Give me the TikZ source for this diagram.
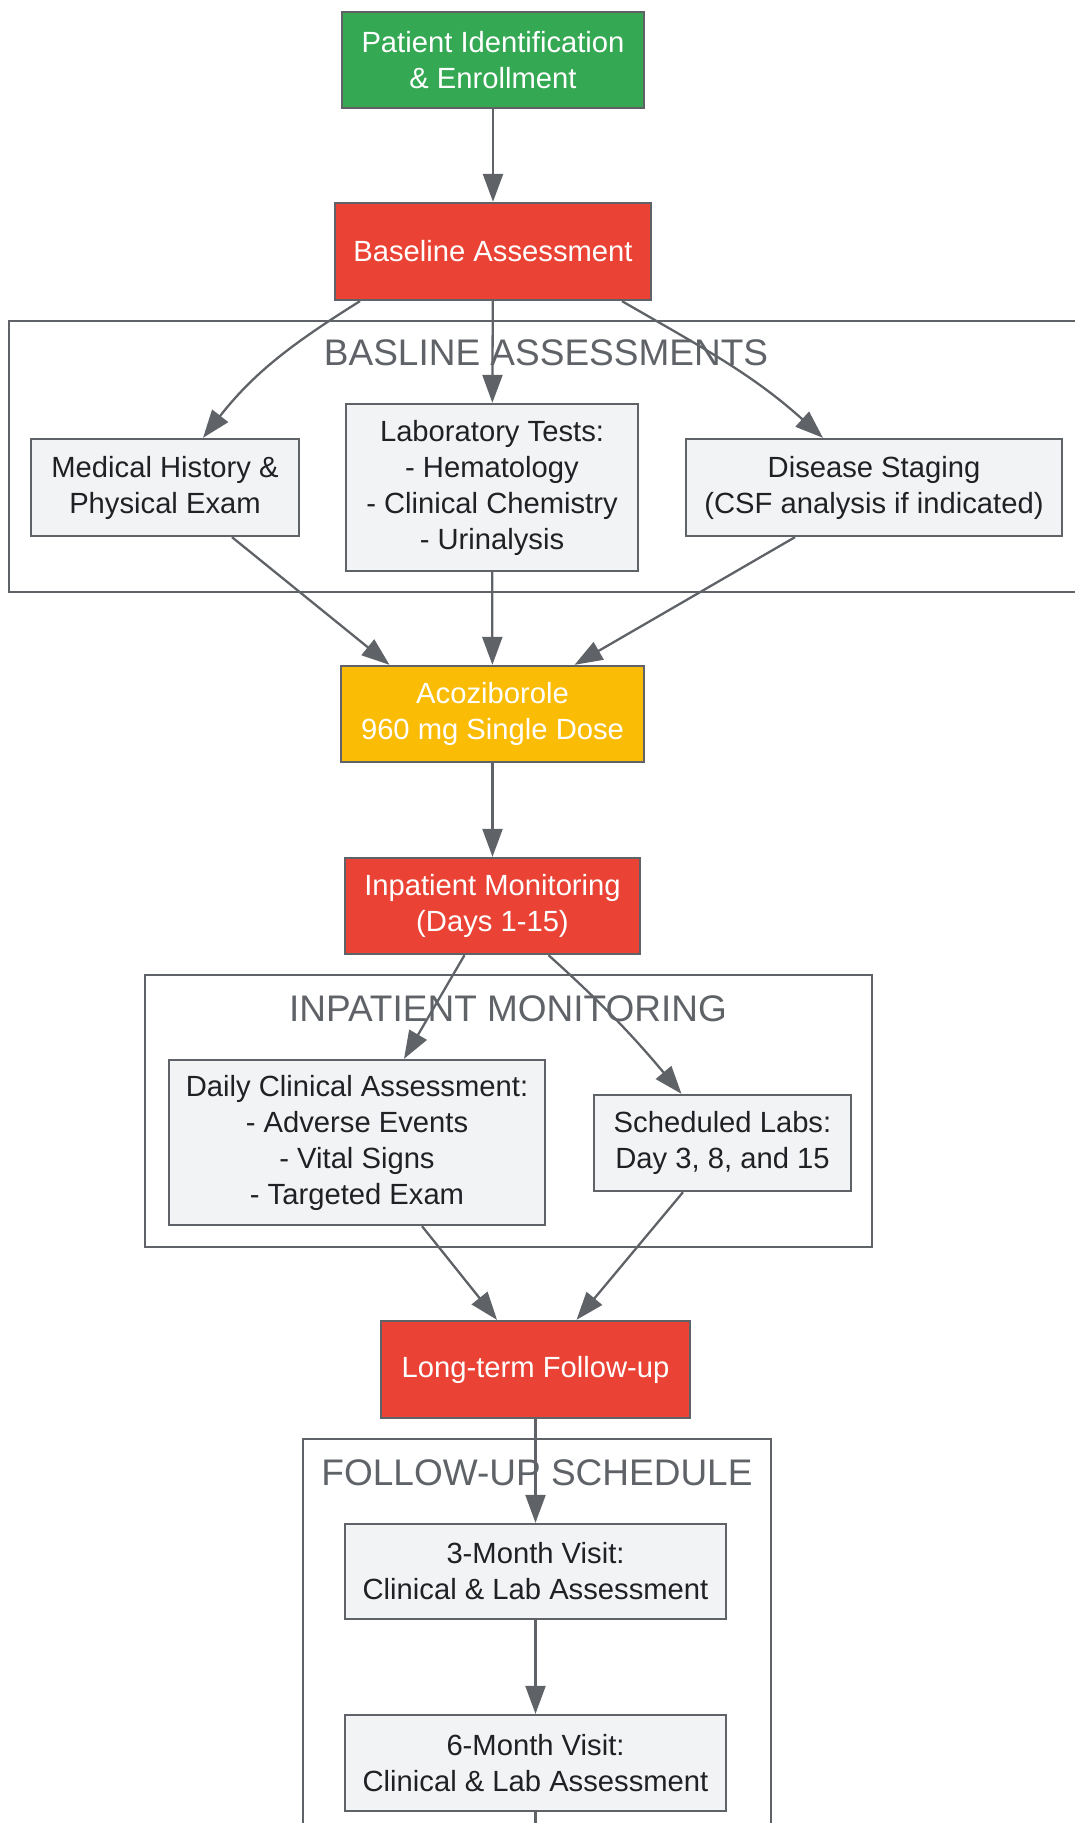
\documentclass[tikz,border=0pt]{standalone}
\usepackage{fontspec}
\setmainfont{Liberation Sans}
\usetikzlibrary{arrows.meta}
\definecolor{startgreen}{HTML}{34A853}
\definecolor{phasered}{HTML}{EA4335}
\definecolor{doseyellow}{HTML}{FBBC05}
\definecolor{boxgray}{HTML}{F1F3F4}
\definecolor{edgegray}{HTML}{5F6368}
\definecolor{textdark}{HTML}{202124}

\begin{document}
\begin{tikzpicture}[x=1pt,y=1pt,
    box/.style={draw=edgegray,line width=2.3pt,align=center,inner sep=0pt,font=\fontsize{29.2}{36}\selectfont},
    keybox/.style={box,text=white},
    subbox/.style={box,fill=boxgray,text=textdark},
    group/.style={draw=edgegray,line width=2.3pt},
    grouptitle/.style={text=edgegray,font=\fontsize{37}{44}\selectfont},
    flow/.style={edgegray,line width=2.3pt,-{Triangle[length=28pt,width=20pt]}}]
    \useasboundingbox (0,0) rectangle (1075,-1823);

    % the three groups
    \draw[group] (9,-321) rectangle (1083,-592);
    \draw[group] (145,-975) rectangle (872,-1247);
    \draw[group] (303,-1439) rectangle (771,-1900);
    \node[grouptitle] (basetitle) at (546,-353) {BASLINE ASSESSMENTS};
    \node[grouptitle] (inptitle) at (508,-1009) {INPATIENT MONITORING};
    \node[grouptitle] (followtitle) at (537,-1473) {FOLLOW-UP SCHEDULE};

    \node[keybox,fill=startgreen,minimum width=302pt,minimum height=96pt] (pat) at (493,-60) {Patient Identification\\\& Enrollment};
    \node[keybox,fill=phasered,minimum width=316pt,minimum height=97pt] (base) at (493,-251.5) {Baseline Assessment};

    \node[subbox,minimum width=268pt,minimum height=97pt] (med) at (165,-487.5) {Medical History \&\\Physical Exam};
    \node[subbox,minimum width=292pt,minimum height=167pt] (lab) at (492,-487.5) {Laboratory Tests:\\- Hematology\\- Clinical Chemistry\\- Urinalysis};
    \node[subbox,minimum width=376pt,minimum height=97pt] (dis) at (874,-487.5) {Disease Staging\\(CSF analysis if indicated)};

    \node[keybox,fill=doseyellow,minimum width=303pt,minimum height=96pt] (aco) at (492.5,-714) {Acoziborole\\960 mg Single Dose};
    \node[keybox,fill=phasered,minimum width=295pt,minimum height=96pt] (inp) at (492.5,-906) {Inpatient Monitoring\\(Days 1-15)};

    \node[subbox,minimum width=376pt,minimum height=165pt] (daily) at (357,-1142.5) {Daily Clinical Assessment:\\- Adverse Events\\- Vital Signs\\- Targeted Exam};
    \node[subbox,minimum width=257pt,minimum height=96pt] (sched) at (722.5,-1143) {Scheduled Labs:\\Day 3, 8, and 15};

    \node[keybox,fill=phasered,minimum width=309pt,minimum height=97pt] (long) at (535.5,-1369.5) {Long-term Follow-up};
    \node[subbox,minimum width=381pt,minimum height=95pt] (m3) at (535.5,-1571.5) {3-Month Visit:\\Clinical \& Lab Assessment};
    \node[subbox,minimum width=381pt,minimum height=96pt] (m6) at (535.5,-1763) {6-Month Visit:\\Clinical \& Lab Assessment};
    \coordinate (more) at (535.5,-1840);

    \draw[flow] (pat) -- (base);
    \draw[flow] ([xshift=-133pt]base.south) to[out=212,in=52] ([xshift=38pt]med.north);
    \draw[flow] (base) -- (lab);
    \draw[flow] ([xshift=129pt]base.south) to[out=-30,in=138] ([xshift=-51pt]dis.north);
    \draw[flow] ([xshift=67pt]med.south) -- ([xshift=-103pt]aco.north);
    \draw[flow] (lab) -- (aco);
    \draw[flow] ([xshift=-79pt]dis.south) -- ([xshift=82pt]aco.north);
    \draw[flow] (aco) -- (inp);
    \draw[flow] ([xshift=-28pt]inp.south) -- ([xshift=47pt]daily.north);
    \draw[flow] ([xshift=56pt]inp.south) to[out=-42,in=130] ([xshift=-41pt]sched.north);
    \draw[flow] ([xshift=65pt]daily.south) -- ([xshift=-38.5pt]long.north);
    \draw[flow] ([xshift=-39.5pt]sched.south) -- ([xshift=41pt]long.north);
    \draw[flow] (long) -- (m3);
    \draw[flow] (m3) -- (m6);
    \draw[edgegray,line width=2.3pt] (m6) -- (more);
\end{tikzpicture}
\end{document}
